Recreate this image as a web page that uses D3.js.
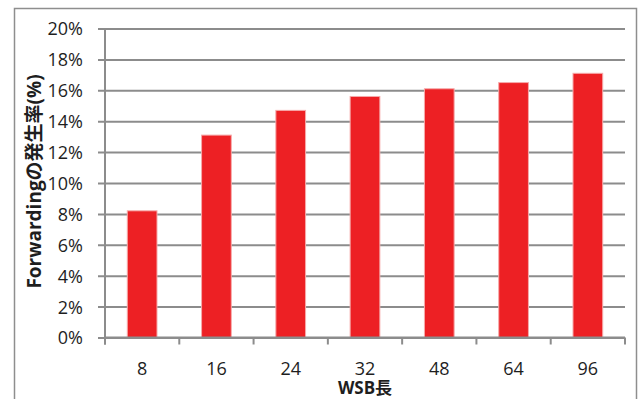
<!DOCTYPE html>
<html>
<head>
<meta charset="utf-8">
<script src="https://cdn.jsdelivr.net/npm/d3@7"></script>
<style>
  html, body { margin: 0; padding: 0; background: #fff; }
  svg { display: block; }
  text { font-family: "Open Sans", "Noto Sans CJK JP", sans-serif; fill: #1e1e1e; }
</style>
</head>
<body>
<svg id="chart" width="638" height="399"></svg>
<script>
// WSB length categories and forwarding occurrence rate (%)
const categories = ["8", "16", "24", "32", "48", "64", "96"];
const rates = [8.2, 13.1, 14.7, 15.6, 16.1, 16.5, 17.1];
const yTicks = [0, 2, 4, 6, 8, 10, 12, 14, 16, 18, 20];
const xTitle = "WSB長";
const yTitle = "Forwardingの発生率(%)";

const svg = d3.select("#chart");
const plot = { left: 105, right: 625, top: 28.5, bottom: 337.5 };
const gridColor = "#8c8c8c";

// outer chart frame
svg.append("rect")
  .attr("x", 14.5).attr("y", 8.5)
  .attr("width", 622).attr("height", 400)
  .attr("fill", "#fff")
  .attr("stroke", "#8e8e8e").attr("stroke-width", 1.5);

const x = d3.scaleBand().domain(categories).range([plot.left, plot.right]).padding(0);
const y = d3.scaleLinear().domain([0, 20]).range([plot.bottom, plot.top]);

// horizontal gridlines + y tick labels via axis
const yAxis = d3.axisLeft(y)
  .tickValues(yTicks)
  .tickSize(-(plot.right - plot.left) - 7)
  .tickPadding(0)
  .tickFormat(d => d + "%");

const gy = svg.append("g")
  .attr("transform", `translate(${plot.right},0)`)
  .call(yAxis);
gy.select(".domain").remove();
gy.selectAll(".tick line")
  .attr("x1", 0)
  .attr("x2", -(plot.right - plot.left) - 7)
  .attr("stroke", gridColor).attr("stroke-width", 2);
gy.selectAll(".tick text")
  .attr("x", -(plot.right - plot.left) - 22)
  .attr("dy", "0.36em")
  .attr("text-anchor", "end")
  .style("font-size", "18px")
  .style("fill", "#1e1e1e");

// vertical axis line
svg.append("line")
  .attr("x1", plot.left).attr("x2", plot.left)
  .attr("y1", plot.top).attr("y2", plot.bottom + 7)
  .attr("stroke", gridColor).attr("stroke-width", 2);

// bars
const barW = x.bandwidth() * 0.4;
svg.append("g").selectAll("rect")
  .data(rates)
  .join("rect")
  .attr("x", (d, i) => x(categories[i]) + (x.bandwidth() - barW) / 2)
  .attr("y", d => y(d))
  .attr("width", barW)
  .attr("height", d => y(0) - y(d))
  .attr("fill", "#ed2024")
  .attr("stroke", "#f6aaaa")
  .attr("stroke-width", 1);

// x axis: baseline, band-boundary ticks, category labels
const gx = svg.append("g")
  .attr("transform", `translate(0,${plot.bottom})`)
  .call(d3.axisBottom(x).tickSize(0));
gx.select(".domain")
  .attr("d", `M${plot.left},0H${plot.right}`)
  .attr("stroke", gridColor).attr("stroke-width", 2);
gx.selectAll(".tick text")
  .attr("y", 37.5)
  .attr("dy", null)
  .style("font-size", "18px")
  .style("fill", "#1e1e1e");

const bounds = categories.map(c => x(c)).concat([plot.right]);
gx.append("g").selectAll("line")
  .data(bounds)
  .join("line")
  .attr("x1", d => d).attr("x2", d => d)
  .attr("y1", 0).attr("y2", 7)
  .attr("stroke", gridColor).attr("stroke-width", 2);

// axis titles
svg.append("text")
  .attr("x", (plot.left + plot.right) / 2)
  .attr("y", 394)
  .attr("text-anchor", "middle")
  .style("font-size", "17px")
  .style("font-weight", "bold")
  .text(xTitle);

svg.append("text")
  .attr("transform", `translate(41,${(73 + 290) / 2}) rotate(-90)`)
  .attr("text-anchor", "middle")
  .style("font-size", "19px")
  .style("font-weight", "bold")
  .text(yTitle);
</script>
</body>
</html>
